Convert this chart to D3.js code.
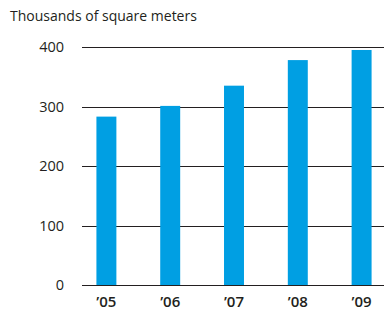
<!DOCTYPE html>
<html>
<head>
<meta charset="utf-8">
<script src="https://cdn.jsdelivr.net/npm/d3@7"></script>
<style>
  body { margin: 0; background: #fff; }
  text { font-family: "Open Sans", "Noto Sans", sans-serif; fill: #231f20; }
</style>
</head>
<body>
<div id="chart"></div>
<script>
const years = ["\u201905", "\u201906", "\u201907", "\u201908", "\u201909"];
const values = [283, 301, 335, 378, 395];
const yTicks = [0, 100, 200, 300, 400];

const width = 384, height = 313;
const plotLeft = 82, plotRight = 384, plotTop = 47, plotBottom = 285;

const svg = d3.select('#chart')
              .append('svg')
              .attr('width', width)
              .attr('height', height);

const xScale = d3.scaleBand()
                 .domain(years)
                 .range([plotLeft, plotRight + 2])
                 .paddingInner(0.687)
                 .paddingOuter(0.226);

const yScale = d3.scaleLinear()
                 .domain([0, 400])
                 .range([plotBottom, plotTop]);

// title
svg.append('text')
   .text('Thousands of square meters')
   .attr('x', 10)
   .attr('y', 21)
   .style('font-size', '14px');

// gridlines + y labels
const yAxis = d3.axisLeft(yScale)
                .tickValues(yTicks)
                .tickSize(-(plotRight - plotLeft))
                .tickPadding(18);

svg.append('g')
   .attr('transform', 'translate(' + plotLeft + ',0)')
   .call(yAxis)
   .call(g => g.select('.domain').remove())
   .call(g => g.selectAll('line').attr('stroke', '#231f20').attr('shape-rendering', 'crispEdges'))
   .call(g => g.selectAll('text').style('font-size', '14.5px').attr('fill', '#231f20'));

// bars
svg.selectAll('rect.bar')
   .data(values)
   .enter()
   .append('rect')
   .attr('class', 'bar')
   .attr('x', (d, i) => xScale(years[i]))
   .attr('width', xScale.bandwidth())
   .attr('y', d => yScale(d))
   .attr('height', d => yScale(0) - yScale(d))
   .attr('fill', '#009fe3');

// x labels
const xAxis = d3.axisBottom(xScale).tickSize(0).tickPadding(11);
svg.append('g')
   .attr('transform', 'translate(0,' + plotBottom + ')')
   .call(xAxis)
   .call(g => g.select('.domain').remove())
   .call(g => g.selectAll('text').style('font-size', '15px').style('font-weight', '600').attr('fill', '#231f20'));

// baseline on top
svg.append('line')
   .attr('x1', plotLeft).attr('x2', plotRight)
   .attr('y1', yScale(0)).attr('y2', yScale(0))
   .attr('stroke', '#231f20')
   .attr('shape-rendering', 'crispEdges');
</script>
</body>
</html>
